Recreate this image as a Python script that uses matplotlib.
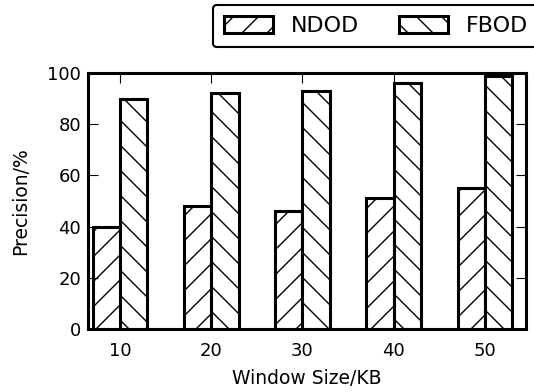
import matplotlib
matplotlib.use("Agg")
import matplotlib.pyplot as plt
import numpy as np

categories = ["10", "20", "30", "40", "50"]
ndod = [40, 48, 46, 51, 55]
fbod = [90, 92, 93, 96, 99]

DPI = 150
S = 100 / DPI  # sizes below are expressed as if at 100 dpi
fig = plt.figure(figsize=(534 / DPI, 392 / DPI), dpi=DPI)
plt.rcParams['hatch.linewidth'] = 1.0 * S
ax = fig.add_axes([88 / 534, 1 - 329 / 392, (526 - 88) / 534, (329 - 73) / 392])

x = np.arange(len(categories))
w = 0.3
b1 = ax.bar(x - w, ndod, w, align='edge', color='white', edgecolor='black',
            linewidth=2.2 * S, hatch='//', label='NDOD')
b2 = ax.bar(x, fbod, w, align='edge', color='white', edgecolor='black',
            linewidth=2.2 * S, hatch='\\\\', label='FBOD')

ax.set_xlim(-0.35, 4.45)
ax.set_ylim(0, 100)
ax.set_xticks(x)
ax.set_xticklabels(categories)
ax.set_yticks([0, 20, 40, 60, 80, 100])
ax.tick_params(axis='both', direction='in', top=True, right=True,
               length=7 * S, width=0.8 * S, labelsize=13 * S)
ax.tick_params(axis='x', pad=9 * S)
ax.tick_params(axis='y', pad=5 * S)
for s in ax.spines.values():
    s.set_linewidth(2.2 * S)
ax.set_xlabel("Window Size/KB", fontsize=13.5 * S, labelpad=7 * S)
ax.set_ylabel("Precision/%", fontsize=13.5 * S, labelpad=12 * S)

leg = fig.legend(handles=[b1, b2], loc='upper left',
                 bbox_to_anchor=(213 / 534, 1 - 5 / 392), ncol=2,
                 fontsize=16 * S, handlelength=2.2, handleheight=0.8,
                 handletextpad=0.8, columnspacing=1.8, borderpad=0.5,
                 borderaxespad=0.0,
                 fancybox=True, framealpha=1, edgecolor='black')
leg.get_frame().set_linewidth(1.5 * S)

fig.savefig("out.png", dpi=DPI)
